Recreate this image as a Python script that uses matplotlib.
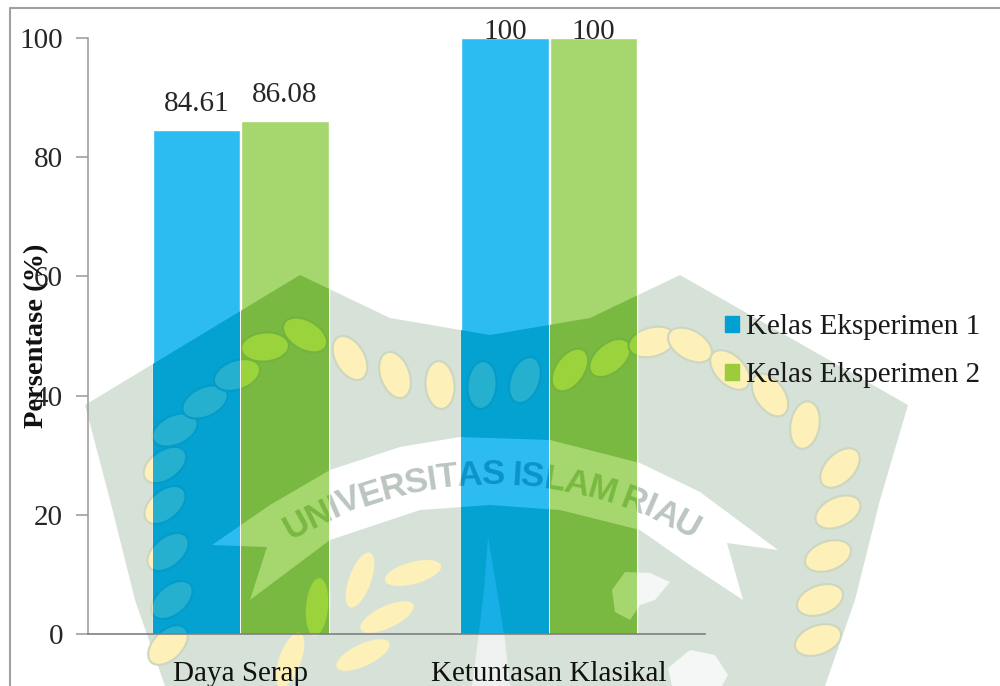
import numpy as np
import matplotlib
matplotlib.use('Agg')
import matplotlib.pyplot as plt
from matplotlib.patches import Polygon, Ellipse, Patch
from matplotlib.lines import Line2D
from matplotlib.transforms import Affine2D

categories = ['Daya Serap', 'Ketuntasan Klasikal']
series_names = ['Kelas Eksperimen 1', 'Kelas Eksperimen 2']
kelas_1 = [84.61, 100]
kelas_2 = [86.08, 100]
y_ticks = [0, 20, 40, 60, 80, 100]

plt.rcParams['font.family'] = ['Liberation Serif', 'DejaVu Serif']
TEXT = '#262626'

W, H = 1000, 686
fig = plt.figure(figsize=(W / 100, H / 100), dpi=100)
ax = fig.add_axes([88 / W, 1 - 634 / H, 617 / W, 596 / H])

# watermark is laid out in image pixels
px = Affine2D().scale(1 / W, -1 / H).translate(0, 1) + fig.transFigure

shield = [(300, 275), (85, 405), (110, 500), (135, 600), (165, 686), (825, 686), (855, 600),
          (880, 500), (908, 405), (680, 275), (590, 318), (490, 335), (390, 318)]
leaves = [(168, 645, 45), (172, 600, 40), (168, 552, 40), (165, 505, 40), (165, 465, 35),
          (175, 430, 25), (205, 402, 25), (237, 375, 20), (265, 347, 5), (305, 335, -30),
          (350, 358, -60), (395, 375, -70), (440, 385, -85), (482, 385, 85),
          (525, 380, 70), (570, 370, 55), (610, 358, 40), (652, 342, 15),
          (690, 345, -30), (730, 370, -45), (770, 395, -55), (805, 425, 80),
          (840, 468, 45), (838, 512, 25), (828, 556, 20), (820, 600, 20),
          (818, 640, 20)]
sprigs = [(360, 580, 70), (413, 573, 15), (387, 617, 25), (363, 655, 25), (290, 660, 70),
          (317, 607, 85)]
banner = [(212, 545), (270, 505), (330, 470), (400, 447), (460, 437), (550, 440), (640, 463),
          (700, 492), (778, 550), (727, 543), (743, 600), (690, 565), (640, 530), (560, 510),
          (490, 505), (420, 510), (330, 540), (250, 600), (267, 547)]
flame = [(488, 537), (484, 590), (478, 640), (472, 686), (510, 686), (505, 640), (497, 590)]
island = [(612, 590), (625, 572), (650, 573), (670, 582), (655, 600), (640, 605), (630, 620),
          (615, 612)]
island_low = [(668, 668), (690, 650), (715, 655), (728, 675), (722, 686), (672, 686)]

word = 'UNIVERSITAS ISLAM RIAU'
letter_w = {'U': .72, 'N': .72, 'I': .28, 'V': .67, 'E': .67, 'R': .72, 'S': .67, 'T': .61,
            'A': .72, 'L': .61, 'M': .83, ' ': .22}


def draw_mark(base, leaf, rim, ribbon, core, land, ink, clip=None, zorder=0.5):
    # same logo drawn under the chart and again, darker, inside each bar
    arts = [Polygon(shield, closed=True, fc=base, ec='none')]
    arts.append(Polygon(banner, closed=True, fc=ribbon, ec='none'))
    arts.append(Polygon(flame, closed=True, fc=core, ec='none'))
    arts.append(Polygon(island, closed=True, fc=land, ec='none'))
    arts.append(Polygon(island_low, closed=True, fc=land, ec='none'))
    for x, y, ang in leaves:
        arts.append(Ellipse((x, y), 48, 29, angle=-ang, fc=leaf, ec=rim, lw=1.5))
    for x, y, ang in sprigs:
        arts.append(Ellipse((x, y), 58, 22, angle=-ang, fc=leaf, ec='none'))

    for a in arts:
        a.set_transform(px)
        a.set_zorder(zorder)
        ax.add_artist(a)
        if clip is None:
            a.set_clip_on(False)
        else:
            a.set_clip_path(clip)

    # arched lettering on the banner
    sizes = np.array([letter_w[c] for c in word])
    mids = np.cumsum(sizes) - sizes / 2
    angles = 31 - 62 * mids / sizes.sum()
    for ch, ang in zip(word, angles):
        t = np.radians(ang)
        txt = ax.text(492 - 399 * np.sin(t), 874 - 399 * np.cos(t), ch, transform=px,
                      family='Liberation Sans', fontweight='bold', fontsize=25, color=ink,
                      rotation=ang, ha='center', va='center', zorder=zorder + 0.1)
        if clip is None:
            txt.set_clip_on(False)
        else:
            txt.set_clip_on(True)
            txt.set_clip_path(clip)


draw_mark('#d6e2d8', '#fdf0b8', '#cdd6c0', '#ffffff', '#eef1ef', '#f5f7f6', '#bcc6c0')

x = np.arange(len(categories))
width = 0.284
bars_1 = ax.bar(x - width / 2 - 0.001, kelas_1, width, color='#2dbcf2', edgecolor='white',
                linewidth=1, zorder=2, label=series_names[0])
bars_2 = ax.bar(x + width / 2 + 0.001, kelas_2, width, color='#a5d76e', edgecolor='white',
                linewidth=1, zorder=2, label=series_names[1])

for b in bars_1:
    draw_mark('#03a2d0', '#25b0d0', '#049bc9', '#2dbcf2', '#18aee6', '#2dbcf2', '#0c94c8',
              clip=b, zorder=3)
for b in bars_2:
    draw_mark('#79b942', '#9bd33c', '#74b43e', '#a5d76e', '#92cc52', '#a5d76e', '#79b942',
              clip=b, zorder=3)

ax.set_xlim(-0.495, 1.505)
ax.set_ylim(0, 100)
ax.set_xticks(x)
ax.set_xticklabels(categories, fontsize=21, color='#111111')
ax.set_yticks(y_ticks)
ax.tick_params(axis='y', labelsize=21, labelcolor=TEXT, color='#a0a0a0', length=9,
               width=1.2, pad=9)
ax.tick_params(axis='x', length=0, pad=19.5)
ax.patch.set_visible(False)
for s in ['top', 'right']:
    ax.spines[s].set_visible(False)
for s in ['left', 'bottom']:
    ax.spines[s].set_color('#a0a0a0')
    ax.spines[s].set_linewidth(1.2)
    ax.spines[s].set_zorder(5)
ax.spines['bottom'].set_color('#808080')

for bars, vals in [(bars_1, kelas_1), (bars_2, kelas_2)]:
    for b, v in zip(bars, vals):
        ax.text(b.get_x() + b.get_width() / 2, min(v + 4.4, 101.0), f'{v:g}', ha='center',
                va='center', fontsize=21, color=TEXT, zorder=6, clip_on=False)

fig.text(37 / W, 1 - 336 / H, 'Persentase (%)', rotation=90, fontsize=20.5, fontweight='bold',
         ha='center', va='center', color='#111111', zorder=10)

handles = [Patch(color='#00a0d2'), Patch(color='#9ccb3b')]
leg = ax.legend(handles, series_names, loc='center left', bbox_to_anchor=(725 / W, 1 - 351 / H),
                bbox_transform=fig.transFigure, frameon=False, fontsize=21,
                handlelength=0.47, handleheight=0.47, handletextpad=0.24,
                labelspacing=0.75, borderpad=0, borderaxespad=0)
leg.set_zorder(10)
for t in leg.get_texts():
    t.set_color('#1a1a1a')

# chart border, only left and top survive the crop
border = Line2D([10 / W, 10 / W, 1], [0, 1 - 8 / H, 1 - 8 / H],
                transform=fig.transFigure, color='#a0a0a0', linewidth=1.5)
fig.add_artist(border)

fig.savefig('out.png', dpi=100)
